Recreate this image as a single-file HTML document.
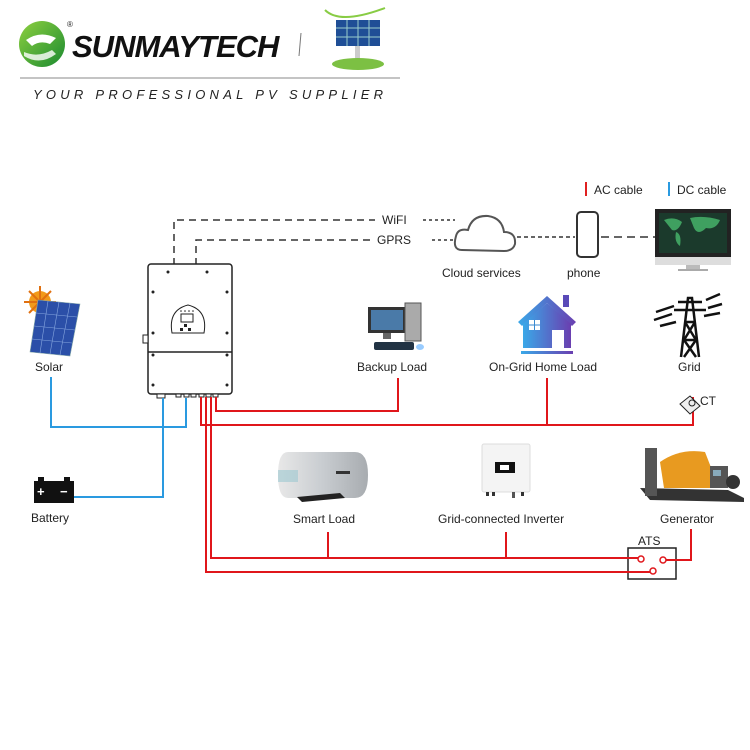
<!DOCTYPE html>
<html><head><meta charset="utf-8"><style>
body{margin:0;background:#fff;width:750px;height:750px;overflow:hidden}
svg{display:block}
text{font-family:"Liberation Sans",Arial,sans-serif;fill:#222}
</style></head><body>
<svg width="750" height="750" viewBox="0 0 750 750" xmlns="http://www.w3.org/2000/svg">
<defs>
<linearGradient id="hg" x1="0" x2="1"><stop offset="0" stop-color="#3aa8e8"/><stop offset="1" stop-color="#6a3fb0"/></linearGradient>
<linearGradient id="gg" x1="0" x2="1" y1="0" y2="1"><stop offset="0" stop-color="#8ed040"/><stop offset="1" stop-color="#1a8a30"/></linearGradient>
<linearGradient id="sg" x1="0" x2="1"><stop offset="0" stop-color="#e8e8e8"/><stop offset="0.5" stop-color="#c8ccd0"/><stop offset="1" stop-color="#a8acb0"/></linearGradient>
</defs>
<!-- Logo -->
<circle cx="42" cy="44" r="23" fill="url(#gg)"/>
<path d="M26 40 Q40 30 56 38 L50 44 Q40 40 32 46 Z" fill="#fff"/>
<path d="M24 52 Q38 58 52 50 L56 54 Q40 66 24 56 Z" fill="#fff" opacity="0.8"/>
<text x="67" y="27" font-size="8">®</text>
<text x="72" y="57" font-size="31" font-weight="bold" font-style="italic" style="fill:#111" letter-spacing="-1">SUNMAYTECH</text>
<line x1="301" y1="33" x2="299" y2="56" stroke="#777"/>
<rect x="336" y="20" width="44" height="26" fill="#1f4e96"/>
<g stroke="#9cc" stroke-width="1"><line x1="336" y1="28" x2="380" y2="28"/><line x1="336" y1="37" x2="380" y2="37"/><line x1="347" y1="20" x2="347" y2="46"/><line x1="358" y1="20" x2="358" y2="46"/><line x1="369" y1="20" x2="369" y2="46"/></g>
<rect x="355" y="46" width="5" height="14" fill="#ccc"/>
<ellipse cx="358" cy="64" rx="26" ry="6" fill="#7cc043"/>
<path d="M325 10 Q340 25 385 8" stroke="#8c4" fill="none" stroke-width="2"/>
<line x1="20" y1="78" x2="400" y2="78" stroke="#888"/>
<text x="33" y="99" font-size="13" font-style="italic" fill="#333" textLength="350" lengthAdjust="spacing">YOUR PROFESSIONAL PV SUPPLIER</text>

<!-- Legend -->
<line x1="586" y1="182" x2="586" y2="196" stroke="#e02020" stroke-width="2"/>
<text x="594" y="194" font-size="12">AC cable</text>
<line x1="669" y1="182" x2="669" y2="196" stroke="#2a9ae0" stroke-width="2"/>
<text x="677" y="194" font-size="12">DC cable</text>

<!-- Dashed comm -->
<g stroke="#333" stroke-width="1.5" fill="none">
<path d="M174 265 V220 H375" stroke-dasharray="7,5"/>
<path d="M196 265 V240 H373" stroke-dasharray="7,5"/>
<path d="M423 220 H455 M432 240 H455" stroke-dasharray="3,3"/>
<path d="M517 237 H575" stroke-dasharray="4,3"/>
<path d="M601 237 H655" stroke-dasharray="8,5"/>
</g>
<text x="382" y="224" font-size="12">WiFI</text>
<text x="377" y="244" font-size="12">GPRS</text>
<!-- cloud -->
<path d="M462 250 Q452 250 456 236 Q458 228 468 230 Q472 215 488 216 Q502 218 504 232 Q516 232 515 244 Q513 251 504 251 Z" fill="#fff" stroke="#555" stroke-width="2"/>
<text x="442" y="277" font-size="12">Cloud services</text>
<!-- phone -->
<rect x="577" y="212" width="21" height="45" rx="4" fill="#fff" stroke="#333" stroke-width="2"/>
<text x="567" y="277" font-size="12">phone</text>
<!-- monitor -->
<rect x="655" y="209" width="76" height="48" fill="#222"/>
<rect x="659" y="213" width="68" height="40" fill="#1b3a2c"/>
<path d="M664 220 q10-4 18 2 q-4 10 -10 8 z M690 218 q14-3 30 2 q-4 10 -14 8 q-8 8-12 0z M676 232 q6 2 4 14 q-6-4-4-14z" fill="#3fa060"/>
<rect x="655" y="257" width="76" height="8" fill="#ddd"/>
<rect x="686" y="265" width="14" height="5" fill="#bbb"/>
<rect x="678" y="269" width="30" height="2" fill="#aaa"/>

<!-- Inverter -->
<rect x="148" y="264" width="84" height="130" rx="3" fill="#fff" stroke="#222" stroke-width="1.5"/>
<line x1="148" y1="352" x2="232" y2="352" stroke="#222" stroke-width="1.5"/>
<rect x="143" y="335" width="5" height="8" fill="#fff" stroke="#222"/>
<g fill="#222"><circle cx="168" cy="272" r="1.5"/><circle cx="207" cy="272" r="1.5"/><circle cx="153" cy="292" r="1.5"/><circle cx="227" cy="292" r="1.5"/><circle cx="153" cy="333" r="1.5"/><circle cx="227" cy="333" r="1.5"/><circle cx="153" cy="355" r="1.5"/><circle cx="227" cy="355" r="1.5"/><circle cx="153" cy="385" r="1.5"/><circle cx="227" cy="385" r="1.5"/></g>
<path d="M172 333 Q168 310 188 305 Q208 310 204 333 Z" fill="#fff" stroke="#222"/>
<rect x="181" y="314" width="12" height="8" fill="#fff" stroke="#222"/>
<g fill="#222"><rect x="184" y="324" width="3" height="3"/><rect x="180" y="328" width="3" height="3"/><rect x="188" y="328" width="3" height="3"/><circle cx="181" cy="311" r="0.8"/><circle cx="185" cy="311" r="0.8"/><circle cx="189" cy="311" r="0.8"/><circle cx="193" cy="311" r="0.8"/></g>
<g fill="#fff" stroke="#222"><rect x="157" y="394" width="8" height="4"/><rect x="176" y="394" width="5" height="3"/><rect x="184" y="394" width="5" height="3"/><rect x="191" y="394" width="5" height="3"/><rect x="199" y="394" width="5" height="3"/><rect x="206" y="394" width="5" height="3"/><rect x="213" y="394" width="5" height="3"/></g>

<!-- Solar -->
<circle cx="40" cy="302" r="11" fill="#f29a1a"/>
<g stroke="#e07010" stroke-width="2"><line x1="40" y1="286" x2="40" y2="318"/><line x1="24" y1="302" x2="56" y2="302"/><line x1="29" y1="291" x2="51" y2="313"/><line x1="51" y1="291" x2="29" y2="313"/></g>
<path d="M38 300 L80 304 L70 356 L30 352 Z" fill="#2b4fa8" stroke="#8aa" stroke-width="0.6"/>
<g stroke="#88a8e0" stroke-width="0.6"><line x1="36" y1="313" x2="77" y2="317"/><line x1="34" y1="326" x2="75" y2="330"/><line x1="32" y1="339" x2="72" y2="343"/><line x1="48" y1="301" x2="40" y2="353"/><line x1="59" y1="302" x2="50" y2="354"/><line x1="70" y1="303" x2="60" y2="355"/></g>
<text x="35" y="371" font-size="12">Solar</text>

<!-- Backup Load -->
<rect x="368" y="307" width="38" height="26" fill="#333"/>
<rect x="371" y="310" width="32" height="20" fill="#4a7aa8"/>
<rect x="405" y="303" width="16" height="38" fill="#aaa" stroke="#555"/>
<rect x="383" y="333" width="8" height="6" fill="#666"/>
<rect x="374" y="342" width="40" height="8" fill="#234" rx="2"/>
<ellipse cx="420" cy="347" rx="4" ry="3" fill="#9cf"/>
<text x="357" y="371" font-size="12">Backup Load</text>

<!-- Home -->
<path d="M518 322 L547 296 L576 322 L572 326 L547 303 L522 326 Z" fill="url(#hg)"/>
<rect x="563" y="295" width="6" height="12" fill="#5a4ab8"/>
<path d="M523 324 L547 303 L571 324 V348 H523 Z" fill="url(#hg)"/>
<rect x="529" y="320" width="11" height="10" fill="#fff"/>
<line x1="534.5" y1="320" x2="534.5" y2="330" stroke="#3a8ad0"/><line x1="529" y1="325" x2="540" y2="325" stroke="#3a8ad0"/>
<rect x="552" y="330" width="12" height="18" fill="#fff"/>
<rect x="521" y="351" width="52" height="3" fill="url(#hg)"/>
<text x="489" y="371" font-size="12">On-Grid Home Load</text>

<!-- Grid tower -->
<g stroke="#111" stroke-width="2.5" fill="none">
<path d="M681 357 L688 298 L692 298 L699 357 M683 340 L697 340 M685 322 L695 322 M684 340 L696 357 M696 340 L684 357 M685 322 L696 340 M695 322 L684 340"/>
<path d="M674 310 H706 M678 302 H702"/>
<path d="M656 312 l18-6 M654 320 l18-6 M660 326 l16-4 M706 300 l14-6 M708 308 l14-4 M704 316 l16-3"/>
</g>
<text x="678" y="371" font-size="12">Grid</text>

<!-- Battery -->
<rect x="34" y="481" width="40" height="22" fill="#111"/>
<rect x="38" y="477" width="6" height="4" fill="#111"/><rect x="64" y="477" width="6" height="4" fill="#111"/>
<text x="37" y="496" font-size="13" style="fill:#fff" font-weight="bold">+</text>
<text x="60" y="496" font-size="13" style="fill:#fff" font-weight="bold">−</text>
<text x="31" y="522" font-size="12">Battery</text>

<!-- Smart load -->
<path d="M288 452 H355 Q368 452 368 475 Q368 498 355 498 H288 Q278 498 278 475 Q278 452 288 452 Z" fill="url(#sg)"/>
<rect x="278" y="470" width="20" height="12" fill="#9cc8d0" opacity="0.6"/>
<rect x="336" y="471" width="14" height="3" fill="#333"/>
<path d="M297 497 L340 493 L345 498 L302 502 Z" fill="#222"/>
<text x="293" y="523" font-size="12">Smart Load</text>

<!-- Grid-connected inverter -->
<rect x="482" y="444" width="48" height="48" rx="2" fill="#f4f4f4" stroke="#ddd"/>
<rect x="495" y="462" width="20" height="11" fill="#111"/>
<rect x="500" y="465" width="9" height="5" fill="#fff"/>
<rect x="486" y="492" width="3" height="4" fill="#333"/><rect x="492" y="492" width="3" height="4" fill="#333"/><rect x="512" y="492" width="3" height="6" fill="#555"/><rect x="521" y="492" width="3" height="4" fill="#333"/>
<text x="438" y="523" font-size="12">Grid-connected Inverter</text>

<!-- Generator -->
<path d="M640 488 L728 490 L744 498 L744 502 L650 500 Z" fill="#333"/>
<rect x="645" y="448" width="12" height="48" fill="#555"/>
<path d="M660 462 Q680 448 705 452 L712 470 L715 488 L664 488 Z" fill="#e89a20"/>
<rect x="710" y="466" width="18" height="22" fill="#555"/>
<rect x="713" y="470" width="8" height="6" fill="#8ab"/>
<circle cx="733" cy="482" r="7" fill="#333"/>
<text x="660" y="523" font-size="12">Generator</text>

<!-- ATS -->
<text x="638" y="545" font-size="12">ATS</text>
<rect x="628" y="548" width="48" height="31" fill="#fff" stroke="#222" stroke-width="1.5"/>

<!-- DC lines -->
<g stroke="#2a9ae0" stroke-width="2" fill="none">
<path d="M51 377 V427 H186 V398"/>
<path d="M163 398 V497 H74"/>
</g>
<!-- AC lines -->
<g stroke="#e0161b" stroke-width="2" fill="none">
<path d="M216 397 V411 H398 V378"/>
<path d="M201 397 V425 H693 V397"/>
<path d="M547 378 V425"/>
<path d="M211 397 V558 H638"/>
<path d="M328 532 V558 M506 532 V558"/>
<path d="M206 397 V572 H650"/>
<path d="M691 529 V560 H666"/>
</g>
<g fill="#fff" stroke="#e0161b" stroke-width="1.5"><circle cx="641" cy="559" r="3"/><circle cx="663" cy="560" r="3"/><circle cx="653" cy="571" r="3"/></g>
<!-- CT -->
<path d="M680 404 L690 396 L700 406 L690 414 Z" fill="#eee" stroke="#222"/>
<circle cx="692" cy="403" r="3" fill="none" stroke="#222"/>
<text x="700" y="405" font-size="12">CT</text>
</svg>
</body></html>
